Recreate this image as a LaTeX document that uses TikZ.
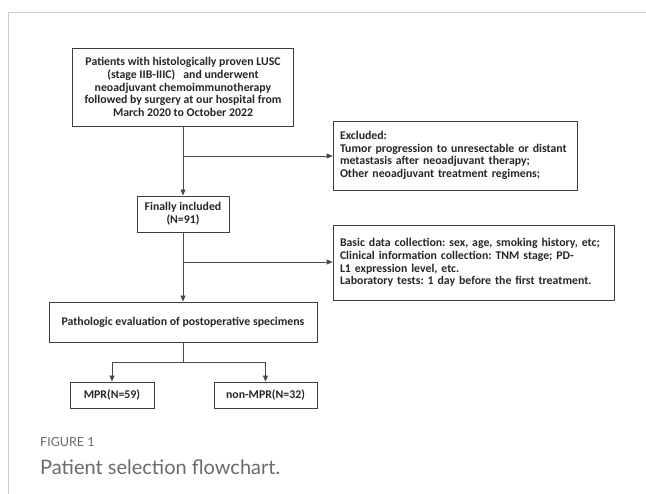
\documentclass[tikz,border=0pt]{standalone}
\usepackage{fontspec}
\setmainfont{Carlito}
\newfontfamily\capfont{Lato}
\frenchspacing
\usetikzlibrary{arrows.meta,positioning}
\definecolor{boxc}{HTML}{3A3F47}
\definecolor{linec}{HTML}{4A4A4A}
\definecolor{framec}{HTML}{CCCCCC}
\definecolor{capc}{HTML}{6A6A6A}
\tikzset{
  box/.style={draw=boxc, line width=0.8pt, font=\fontsize{11.8}{12.7}\selectfont\bfseries, text=black!85, inner sep=0pt},
  lbox/.style={box, align=left, inner xsep=7pt},
  cbox/.style={box, align=center},
  conn/.style={draw=linec, line width=0.8pt},
  arr/.style={conn, -{Triangle[length=6pt,width=5pt]}},
  frameline/.style={draw=framec, line width=1pt}
}
\begin{document}
\begin{tikzpicture}[x=1pt,y=-1pt]
\useasboundingbox (0,0) rectangle (646,494);
\draw[frameline] (8,494) -- (8,13) -- (646,13);

\node[cbox, minimum width=221pt, minimum height=78pt] (top) at (183,87)
  {Patients with histologically proven LUSC\\(stage IIB-IIIC)\ \ \ and underwent\\neoadjuvant chemoimmunotherapy\\followed by surgery at our hospital from\\March 2020 to October 2022};
\node[cbox, minimum width=92pt, minimum height=36pt] (fin) at (183,214)
  {Finally included\\(N=91)};
\node[lbox, text width=230pt, minimum height=69pt] (exc) at (455,155.5)
  {\mbox{Excluded:}\\\mbox{Tumor progression to unresectable or distant}\\\mbox{metastasis after neoadjuvant therapy;}\\\mbox{Other neoadjuvant treatment regimens;}};
\node[lbox, text width=267pt, minimum height=75pt] (basic) at (473.5,262.5)
  {\mbox{Basic data collection: sex, age, smoking history, etc;}\\\mbox{Clinical information collection: TNM stage; PD-}\\\mbox{L1 expression level, etc.}\\\mbox{Laboratory tests: 1 day before the first treatment.}};
\node[cbox, minimum width=268pt, minimum height=40pt] (path) at (183,322)
  {Pathologic evaluation of postoperative specimens};
\node[cbox, minimum width=84pt, minimum height=26pt] (mpr) at (112,395)
  {MPR(N=59)};
\node[cbox, minimum width=103pt, minimum height=26pt] (non) at (265.5,395)
  {non-MPR(N=32)};

\coordinate (b1) at (183,156);
\coordinate (b2) at (183,262);
\coordinate (sp) at (183,362);
\draw[arr] (top) -- (fin);
\draw[arr] (b1) -- (b1 -| exc.west);
\draw[arr] (fin) -- (path);
\draw[arr] (b2) -- (b2 -| basic.west);
\draw[conn] (path) -- (sp);
\draw[arr] (sp) -| (mpr);
\draw[arr] (sp) -| (non);

\node[anchor=west, inner sep=0pt, text=capc, font=\capfont\fontsize{12.5}{14}\selectfont] (figlab) at (40,442) {FIGURE 1};
\node[anchor=west, inner sep=0pt, text=capc, font=\capfont\fontsize{20}{23}\selectfont] (figcap) at (40,467) {Patient selection flowchart.};
\end{tikzpicture}
\end{document}
